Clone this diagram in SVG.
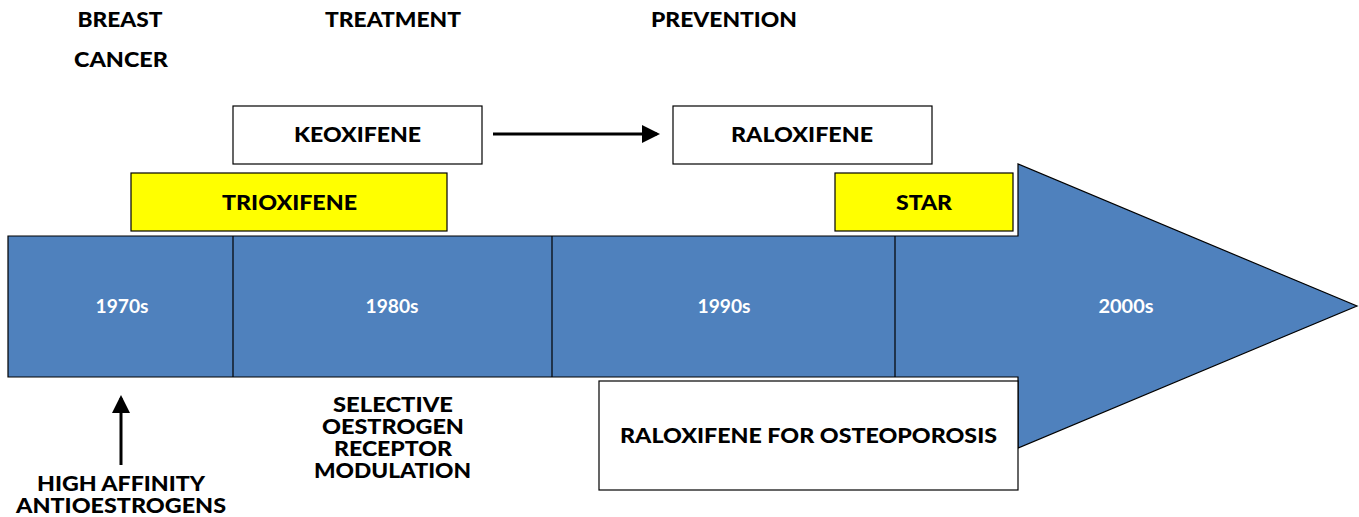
<svg xmlns="http://www.w3.org/2000/svg" width="1359" height="517" viewBox="0 0 1359 517">
<style>
text{font-family:Lato,"Liberation Sans",sans-serif;font-weight:900;text-anchor:middle;dominant-baseline:central}
.t{font-size:20px;fill:#000}
.y{font-size:19px;fill:#fff;font-weight:bold}
.box{fill:#fff;stroke:#000;stroke-width:1.2}
.yel{fill:#ffff00;stroke:#000;stroke-width:1.2}
.div{stroke:#000;stroke-width:1.2}
</style>
<defs>
<marker id="ah" markerWidth="6" markerHeight="6" refX="5" refY="3" orient="auto" markerUnits="strokeWidth"><path d="M0,0 L6,3 L0,6 z" fill="#000"/></marker>
</defs>
<rect width="1359" height="517" fill="#fff"/>
<g id="headers">
<text class="t" x="120" y="19" textLength="85" lengthAdjust="spacingAndGlyphs">BREAST</text>
<text class="t" x="121" y="59" textLength="94" lengthAdjust="spacingAndGlyphs">CANCER</text>
<text class="t" x="393" y="19" textLength="136" lengthAdjust="spacingAndGlyphs">TREATMENT</text>
<text class="t" x="724" y="19" textLength="146" lengthAdjust="spacingAndGlyphs">PREVENTION</text>
</g>
<g id="timeline">
<path d="M8,236 H1018 V164 L1357,306 L1018,448 V377 H8 Z" fill="#4f81bd" stroke="#000" stroke-width="1.2"/>
<line class="div" x1="233" y1="236" x2="233" y2="377"/>
<line class="div" x1="552" y1="236" x2="552" y2="377"/>
<line class="div" x1="895" y1="236" x2="895" y2="377"/>
<text class="y" x="122" y="305" textLength="53" lengthAdjust="spacingAndGlyphs">1970s</text>
<text class="y" x="392" y="305" textLength="53" lengthAdjust="spacingAndGlyphs">1980s</text>
<text class="y" x="724" y="305" textLength="53" lengthAdjust="spacingAndGlyphs">1990s</text>
<text class="y" x="1126" y="305" textLength="55" lengthAdjust="spacingAndGlyphs">2000s</text>
</g>
<g id="keoxifene">
<rect class="box" x="233" y="106" width="249" height="58"/>
<text class="t" x="357.5" y="134" textLength="127" lengthAdjust="spacingAndGlyphs">KEOXIFENE</text>
</g>
<g id="raloxifene">
<rect class="box" x="673" y="106" width="259" height="58"/>
<text class="t" x="802" y="134" textLength="142" lengthAdjust="spacingAndGlyphs">RALOXIFENE</text>
</g>
<g id="trioxifene">
<rect class="yel" x="131" y="173" width="316" height="58"/>
<text class="t" x="289.5" y="202" textLength="135" lengthAdjust="spacingAndGlyphs">TRIOXIFENE</text>
</g>
<g id="star">
<rect class="yel" x="835" y="173" width="178" height="58"/>
<text class="t" x="924" y="202" textLength="56" lengthAdjust="spacingAndGlyphs">STAR</text>
</g>
<g id="osteoporosis">
<rect class="box" x="599" y="381" width="419" height="109"/>
<text class="t" x="808.5" y="435" textLength="377" lengthAdjust="spacingAndGlyphs">RALOXIFENE FOR OSTEOPOROSIS</text>
</g>
<g id="serm">
<text class="t" x="393" y="404" textLength="120" lengthAdjust="spacingAndGlyphs">SELECTIVE</text>
<text class="t" x="393" y="426" textLength="142" lengthAdjust="spacingAndGlyphs">OESTROGEN</text>
<text class="t" x="393" y="448" textLength="118" lengthAdjust="spacingAndGlyphs">RECEPTOR</text>
<text class="t" x="392.5" y="470" textLength="157" lengthAdjust="spacingAndGlyphs">MODULATION</text>
</g>
<g id="antioestrogens">
<text class="t" x="121" y="483" textLength="168" lengthAdjust="spacingAndGlyphs">HIGH AFFINITY</text>
<text class="t" x="121" y="505" textLength="210" lengthAdjust="spacingAndGlyphs">ANTIOESTROGENS</text>
</g>
<g id="connectors" stroke="#000" stroke-width="3" fill="none">
<line x1="493" y1="134" x2="657" y2="134" marker-end="url(#ah)"/>
<line x1="121" y1="465" x2="121" y2="398" marker-end="url(#ah)"/>
</g>
</svg>
